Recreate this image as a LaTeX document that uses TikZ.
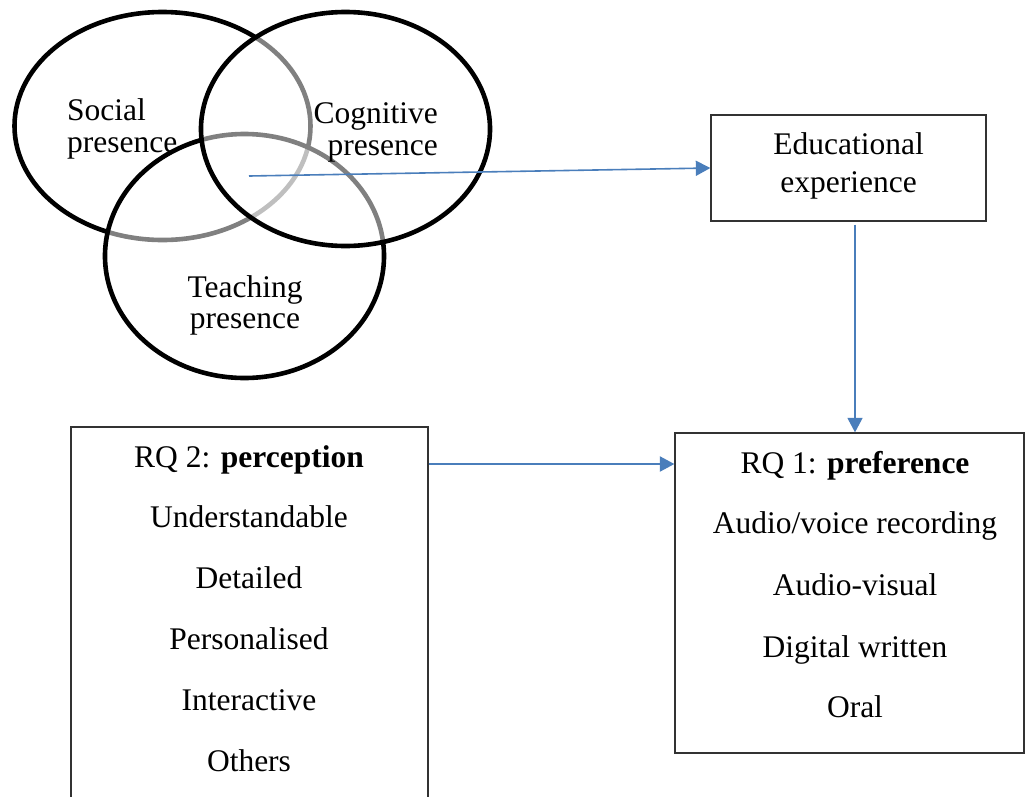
\documentclass[tikz,border=0pt]{standalone}
\usepackage{fontspec}
\setmainfont{Liberation Serif}
\usetikzlibrary{arrows.meta,calc}
\definecolor{arrblue}{RGB}{74,126,187}
\definecolor{boxline}{RGB}{50,50,50}
\begin{document}
\begin{tikzpicture}[x=1pt,y=-1pt,
  txt/.style={font=\fontsize{31.5}{38}\selectfont, inner sep=0pt, anchor=base},
  venn/.style={line width=4.6pt},
  boxst/.style={draw=boxline, line width=1.3pt, rectangle, inner sep=0pt},
  arr/.style={draw=arrblue, line width=1.6pt, -{Triangle[length=14.5pt,width=15pt]}}]
\clip (0,0) rectangle (1025,796);
\fill[white] (0,0) rectangle (1025,796);
% Venn diagram
\draw[venn] (162.5,126) ellipse [x radius=148, y radius=114];
\draw[venn, fill=white, fill opacity=0.5] (244.5,256) ellipse [x radius=139.5, y radius=122];
\draw[venn, fill=white, fill opacity=0.5] (345.5,129) ellipse [x radius=144.5, y radius=117];
\node[txt, anchor=base west] (soc1) at (67,120) {Social};
\node[txt, anchor=base west] (soc2) at (67,152) {presence};
\node[txt, anchor=base east] (cog1) at (438,123) {Cognitive};
\node[txt, anchor=base east] (cog2) at (438,155) {presence};
\node[txt] (tea1) at (245,297) {Teaching};
\node[txt] (tea2) at (245,328) {presence};
\coordinate (vc) at (249,176);
% boxes
\node[boxst, minimum width=275pt, minimum height=106pt] (edu) at (848.5,168) {};
\node[boxst, minimum width=357pt, minimum height=403pt] (rq2) at (249.5,628.5) {};
\node[boxst, minimum width=349pt, minimum height=320pt] (rq1) at (849.5,593) {};
\node[txt] (edu1) at (848.5,154) {Educational};
\node[txt] (edu2) at (848.5,192) {experience};
\node[txt] (rq2t) at (249,467) {RQ 2: \textbf{perception}};
\node[txt] (rq2a) at (249,527) {Understandable};
\node[txt] (rq2b) at (249,588) {Detailed};
\node[txt] (rq2c) at (249,649) {Personalised};
\node[txt] (rq2d) at (249,710) {Interactive};
\node[txt] (rq2e) at (249,771) {Others};
\node[txt] (rq1t) at (855,473) {RQ 1: \textbf{preference}};
\node[txt] (rq1a) at (855,533) {Audio/voice recording};
\node[txt] (rq1b) at (855,595) {Audio-visual};
\node[txt] (rq1c) at (855,657) {Digital written};
\node[txt] (rq1d) at (855,717) {Oral};
% arrows
\draw[arr] (vc) -- (edu.west);
\coordinate (eduout) at ([shift={(6.5,3)}]edu.south);
\draw[arr] (eduout) -- (eduout |- rq1.north);
\coordinate (hy) at (0,464);
\draw[arr, line width=2.2pt] (rq2.east |- hy) -- (rq1.west |- hy);
\end{tikzpicture}
\end{document}
